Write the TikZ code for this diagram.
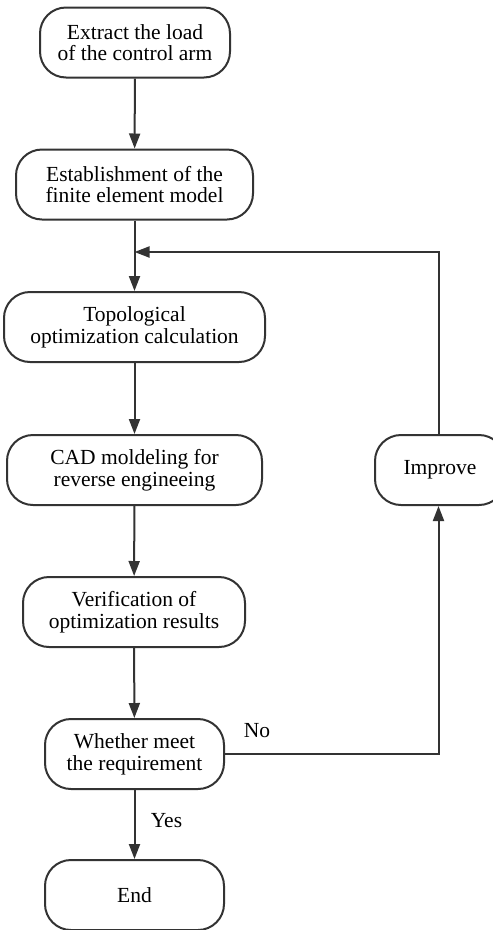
\documentclass[tikz,border=0pt]{standalone}
\usepackage{fontspec}
\setmainfont{Liberation Serif}
\usetikzlibrary{arrows.meta}
\definecolor{ink}{HTML}{333333}
\tikzset{
  x=1pt,y=-1pt,
  proc/.style={draw=ink,line width=2pt,rounded corners=26pt,align=center,
    font=\fontsize{21.5}{21.7}\selectfont,inner sep=0pt,minimum height=70pt},
  flow/.style={draw=ink,line width=2pt,-{Triangle[length=15pt,width=11pt]}},
  plain/.style={draw=ink,line width=2pt},
  lbl/.style={font=\fontsize{21.5}{21.7}\selectfont,inner sep=0pt}
}
\begin{document}
\begin{tikzpicture}
\useasboundingbox (0,0) rectangle (493,930);
\node[proc,minimum width=190pt] (a) at (135,42.5) {Extract the load\\of the control arm};
\node[proc,minimum width=237pt] (b) at (134.5,184.5) {Establishment of the\\finite element model};
\node[proc,minimum width=261pt] (c) at (134.5,327) {Topological\\optimization calculation};
\node[proc,minimum width=255pt] (d) at (134.5,470) {CAD moldeling for\\reverse engineeing};
\node[proc,minimum width=222pt] (e) at (134,612) {Verification of\\optimization results};
\node[proc,minimum width=179pt] (f) at (134.5,754) {Whether meet\\the requirement};
\node[proc,minimum width=179pt] (g) at (134.5,895) {End};
\node[proc,minimum width=130pt] (h) at (440,470) {Improve};
\coordinate (j) at (134.5,252);
\coordinate (k) at (438.5,252);
\coordinate (m) at (438.5,754);
\draw[flow] (a) -- (b);
\draw[plain] (b) -- (j);
\draw[flow] (j) -- (c);
\draw[flow] (c) -- (d);
\draw[flow] (d) -- (e);
\draw[flow] (e) -- (f);
\draw[flow] (f) -- (g);
\draw[flow] (f.east) -- (m) -- (h.south -| m);
\draw[flow] (h.north -| k) -- (k) -- (j);
\node[lbl] (no) at (257,731) {No};
\node[lbl] (yes) at (166.5,821) {Yes};
\end{tikzpicture}
\end{document}
